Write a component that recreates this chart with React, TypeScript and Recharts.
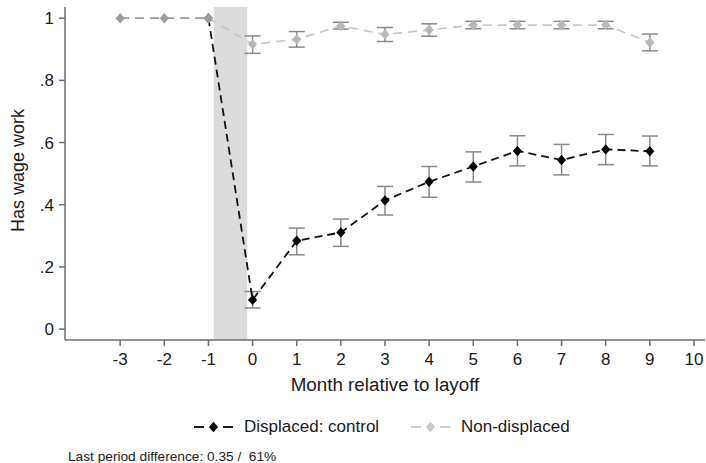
import React from "react";
import {
  ComposedChart,
  Line,
  XAxis,
  YAxis,
  ErrorBar,
  ReferenceArea,
  Label,
} from "recharts";

const months = [-3, -2, -1, 0, 1, 2, 3, 4, 5, 6, 7, 8, 9];
const preValues = [1, 1, 1, null, null, null, null, null, null, null, null, null, null];
const displacedValues = [null, null, 1, 0.094, 0.284, 0.311, 0.414, 0.474, 0.523, 0.573, 0.544, 0.578, 0.572];
const displacedLow = [null, null, null, 0.068, 0.239, 0.266, 0.367, 0.424, 0.473, 0.525, 0.496, 0.529, 0.525];
const displacedHigh = [null, null, null, 0.121, 0.325, 0.354, 0.459, 0.523, 0.57, 0.622, 0.594, 0.626, 0.621];
const nonDisplacedValues = [null, null, 1, 0.916, 0.932, 0.975, 0.948, 0.962, 0.978, 0.978, 0.978, 0.978, 0.922];
const nonDisplacedLow = [null, null, null, 0.887, 0.907, 0.965, 0.925, 0.942, 0.966, 0.966, 0.966, 0.966, 0.895];
const nonDisplacedHigh = [null, null, null, 0.943, 0.957, 0.987, 0.97, 0.982, 0.99, 0.99, 0.99, 0.99, 0.949];
const xTicks = [-3, -2, -1, 0, 1, 2, 3, 4, 5, 6, 7, 8, 9, 10];
const yTicks = [0, 0.2, 0.4, 0.6, 0.8, 1];
const shadeRange = [-0.88, -0.12];

const errOf = (v: number | null, lo: number | null, hi: number | null) =>
  v == null || lo == null || hi == null ? null : [v - lo, hi - v];

const data = months.map((m, i) => ({
  month: m,
  pre: preValues[i],
  displaced: displacedValues[i],
  displacedErr: errOf(displacedValues[i], displacedLow[i], displacedHigh[i]),
  nondisp: nonDisplacedValues[i],
  nondispErr: errOf(nonDisplacedValues[i], nonDisplacedLow[i], nonDisplacedHigh[i]),
}));

const FONT = "'Liberation Sans', Arial, Helvetica, sans-serif";
const TEXT = "#1a1a1a";
const AXIS = "#6e6e6e";

const diamond = (fill: string) => (props: any) => {
  const { cx, cy, index, value } = props;
  if (cx == null || cy == null || value == null) return <g key={`d-${index}`} />;
  const w = 4.6;
  const h = 5.2;
  return (
    <polygon
      key={`d-${index}`}
      points={`${cx},${cy - h} ${cx + w},${cy} ${cx},${cy + h} ${cx - w},${cy}`}
      fill={fill}
      stroke="none"
    />
  );
};

const yFmt = (v: number) => {
  if (v === 0) return "0";
  if (v === 1) return "1";
  return v.toFixed(1).replace(/^0/, "");
};

const LegendIcon = ({ color }: { color: string }) => (
  <svg width={40} height={12} style={{ display: "inline-block", verticalAlign: "middle" }}>
    <line x1={0} y1={6} x2={10} y2={6} stroke={color} strokeWidth={1.8} />
    <line x1={29} y1={6} x2={39} y2={6} stroke={color} strokeWidth={1.8} />
    <polygon points="19.5,0.8 24.1,6 19.5,11.2 14.9,6" fill={color} />
  </svg>
);

export default function App() {
  return (
    <div
      style={{
        position: "absolute",
        left: 0,
        top: 0,
        width: 706,
        height: 463,
        background: "#fff",
        fontFamily: FONT,
      }}
    >
      <ComposedChart
        width={706}
        height={463}
        data={data}
        margin={{ top: 7, right: 1, bottom: 63, left: 0 }}
      >
        <ReferenceArea
          x1={shadeRange[0]}
          x2={shadeRange[1]}
          fill="#dcdcdc"
          fillOpacity={1}
          stroke="none"
          ifOverflow="visible"
        />
        <XAxis
          dataKey="month"
          type="number"
          domain={[-4.25, 10.25]}
          allowDataOverflow
          ticks={xTicks}
          interval={0}
          height={60}
          tickSize={6}
          tickMargin={7}
          stroke={AXIS}
          strokeWidth={1.5}
          tick={{ fill: TEXT, fontSize: 17, fontFamily: FONT }}
        >
          <Label
            value="Month relative to layoff"
            position="insideBottom"
            offset={9}
            style={{ fill: TEXT, fontSize: 18.8, fontFamily: FONT }}
          />
        </XAxis>
        <YAxis
          type="number"
          domain={[-0.035, 1.036]}
          allowDataOverflow
          ticks={yTicks}
          tickFormatter={yFmt}
          width={65}
          tickSize={6}
          tickMargin={5}
          stroke={AXIS}
          strokeWidth={1.5}
          tick={{ fill: TEXT, fontSize: 17, fontFamily: FONT }}
        >
          <Label
            content={(p: any) => {
              const vb = p.viewBox || {};
              const cy = (vb.y ?? 7) + (vb.height ?? 333) / 2 - 3;
              const cx = 18;
              return (
                <text
                  x={cx}
                  y={cy}
                  transform={`rotate(-90, ${cx}, ${cy})`}
                  textAnchor="middle"
                  dominantBaseline="central"
                  fill={TEXT}
                  fontSize={18}
                  fontFamily={FONT}
                >
                  Has wage work
                </text>
              );
            }}
          />
        </YAxis>
        <Line
          dataKey="displaced"
          stroke="#111"
          strokeWidth={1.8}
          strokeDasharray="8 5"
          dot={diamond("#000")}
          activeDot={false}
          isAnimationActive={false}
          connectNulls={false}
        >
          <ErrorBar dataKey="displacedErr" width={8} stroke="#8a8a8a" strokeWidth={1.5} direction="y" />
        </Line>
        <Line
          dataKey="nondisp"
          stroke="#c8c8c8"
          strokeWidth={1.7}
          strokeDasharray="9 6"
          dot={diamond("#b8b8b8")}
          activeDot={false}
          isAnimationActive={false}
          connectNulls={false}
        >
          <ErrorBar dataKey="nondispErr" width={8} stroke="#8a8a8a" strokeWidth={1.5} direction="y" />
        </Line>
        <Line
          dataKey="pre"
          stroke="#9c9c9c"
          strokeWidth={1.8}
          strokeDasharray="9 6"
          dot={diamond("#9c9c9c")}
          activeDot={false}
          isAnimationActive={false}
          connectNulls={false}
        />
      </ComposedChart>
      <div
        style={{
          position: "absolute",
          top: 416,
          left: 194,
          height: 22,
          lineHeight: "22px",
          fontSize: 17,
          color: TEXT,
          whiteSpace: "nowrap",
          display: "flex",
          alignItems: "center",
        }}
      >
        <LegendIcon color="#000" />
        <span style={{ marginLeft: 10 }}>Displaced: control</span>
      </div>
      <div
        style={{
          position: "absolute",
          top: 416,
          left: 411,
          height: 22,
          lineHeight: "22px",
          fontSize: 17,
          color: TEXT,
          whiteSpace: "nowrap",
          display: "flex",
          alignItems: "center",
        }}
      >
        <LegendIcon color="#c8c8c8" />
        <span style={{ marginLeft: 10 }}>Non-displaced</span>
      </div>
      <div
        style={{
          position: "absolute",
          top: 449,
          left: 68,
          fontSize: 13.7,
          lineHeight: "16px",
          color: TEXT,
          whiteSpace: "pre",
        }}
      >
        {"Last period difference: 0.35 /  61%"}
      </div>
    </div>
  );
}
